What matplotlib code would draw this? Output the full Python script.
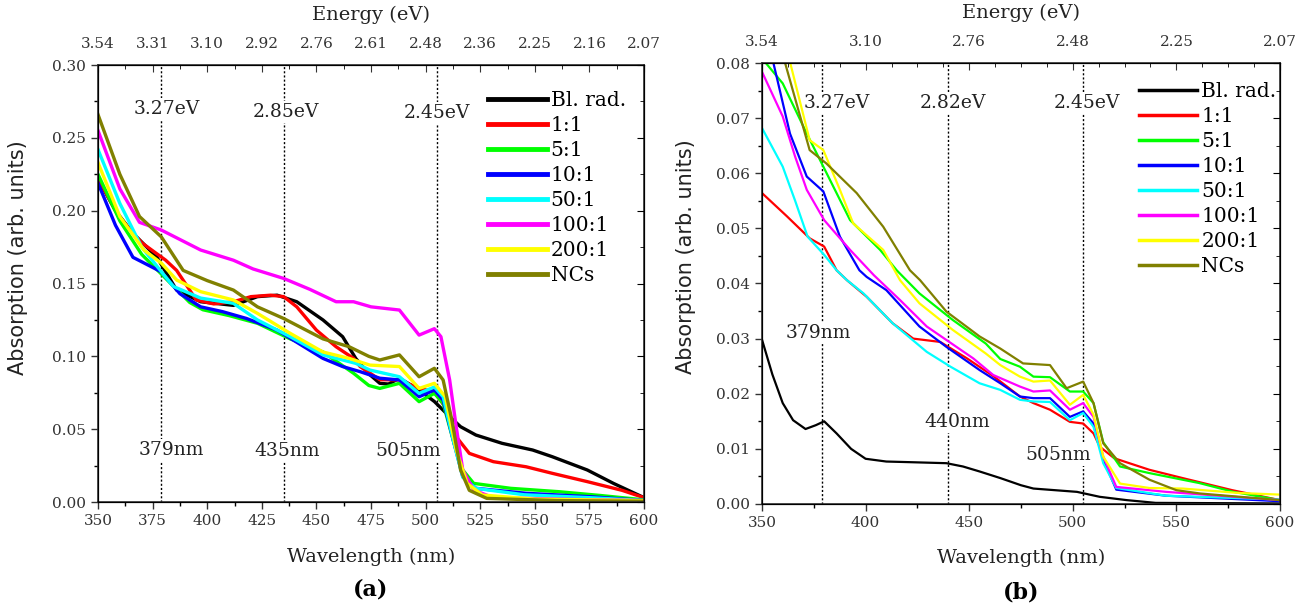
import matplotlib
matplotlib.use("Agg")
import matplotlib.pyplot as plt
from matplotlib.ticker import MultipleLocator

plt.rcParams['font.family'] = ['DejaVu Serif']

# ---- panel (a) data: wavelength (nm) / absorption ----
a_wl_black = [350, 358, 366, 377, 386, 397, 412, 423, 432, 441, 453, 462, 468, 474, 479, 483, 488, 497, 504, 511, 516, 523, 535, 549, 558, 574, 586, 600]
a_ab_black = [0.222, 0.200, 0.1845, 0.168, 0.1455, 0.1375, 0.135, 0.141, 0.142, 0.1375, 0.125, 0.1135, 0.0986, 0.088, 0.0815, 0.081, 0.085, 0.077, 0.069, 0.0586, 0.0517, 0.046, 0.0403, 0.0357, 0.0311, 0.022, 0.0128, 0.003]
a_wl_red = [350, 360, 370, 381, 386, 395, 403, 412, 420, 429, 435, 441, 450, 459, 467, 470, 479, 488, 497, 504, 510, 514, 520, 531, 546, 558, 574, 590, 600]
a_ab_red = [0.222, 0.195, 0.178, 0.166, 0.159, 0.1387, 0.136, 0.1375, 0.141, 0.142, 0.141, 0.134, 0.118, 0.1066, 0.0986, 0.093, 0.084, 0.0838, 0.078, 0.0757, 0.063, 0.0448, 0.0334, 0.0277, 0.0242, 0.0197, 0.014, 0.008, 0.003]
a_wl_green = [350, 360, 370, 380, 392, 398, 410, 423, 438, 453, 467, 474, 479, 488, 497, 504, 508, 513, 517, 522, 539, 561, 580, 600]
a_ab_green = [0.225, 0.193, 0.170, 0.155, 0.137, 0.132, 0.128, 0.1227, 0.112, 0.103, 0.0884, 0.080, 0.078, 0.0815, 0.0689, 0.0746, 0.0678, 0.0403, 0.022, 0.0128, 0.0094, 0.0071, 0.0045, 0.0015]
a_wl_blue = [350, 358, 366, 379, 387.5, 397, 407, 418, 432, 453, 462, 470, 479, 488, 497, 504, 508, 513, 517, 523, 546, 576, 600]
a_ab_blue = [0.219, 0.190, 0.168, 0.158, 0.143, 0.134, 0.1307, 0.126, 0.118, 0.0986, 0.093, 0.0895, 0.085, 0.0838, 0.0723, 0.0769, 0.070, 0.0405, 0.0174, 0.0094, 0.006, 0.0036, 0.001]
a_wl_cyan = [350, 360, 370, 378, 384.5, 397, 412, 423, 438, 453, 468, 474.5, 488, 497, 504, 508, 513, 517, 523, 545, 575, 600]
a_ab_cyan = [0.242, 0.205, 0.175, 0.160, 0.148, 0.140, 0.1364, 0.125, 0.1135, 0.101, 0.0952, 0.0906, 0.086, 0.0746, 0.079, 0.0723, 0.0403, 0.017, 0.0094, 0.005, 0.003, 0.001]
a_wl_magenta = [350, 360, 369, 379, 397, 412, 421, 435, 447, 459, 467, 475, 488, 497, 504, 507, 511, 514, 517, 522, 531, 560, 600]
a_ab_magenta = [0.255, 0.215, 0.192, 0.1867, 0.173, 0.166, 0.160, 0.1535, 0.146, 0.1375, 0.1375, 0.134, 0.1318, 0.1146, 0.119, 0.1135, 0.0838, 0.0517, 0.022, 0.0082, 0.003, 0.002, 0.001]
a_wl_yellow = [350, 360, 371, 379, 386, 397, 412, 423, 438, 453, 465, 474.5, 488, 497, 504, 509, 514, 519, 526, 550, 600]
a_ab_yellow = [0.233, 0.196, 0.173, 0.164, 0.1524, 0.1444, 0.1387, 0.1295, 0.1158, 0.103, 0.0986, 0.094, 0.093, 0.078, 0.0815, 0.0723, 0.0357, 0.0128, 0.0048, 0.002, 0.001]
a_wl_olive = [350, 360, 369, 379, 389, 400, 412, 423, 435, 453, 465, 474, 479, 488, 497, 504, 508, 512, 516, 520, 528, 560, 600]
a_ab_olive = [0.266, 0.225, 0.196, 0.182, 0.159, 0.152, 0.1455, 0.134, 0.126, 0.112, 0.1066, 0.100, 0.0975, 0.101, 0.086, 0.0918, 0.0838, 0.0563, 0.022, 0.008, 0.0025, 0.001, 0.0005]

# ---- panel (b) data ----
b_wl_black = [350, 355, 360, 365, 371, 376, 380, 386, 393, 400, 410, 420, 439, 447, 455, 465, 475, 481, 502, 513, 526, 540, 600]
b_ab_black = [0.0298, 0.0235, 0.0183, 0.0152, 0.0136, 0.0143, 0.0150, 0.0128, 0.0100, 0.0082, 0.0077, 0.0076, 0.0074, 0.0068, 0.0059, 0.0047, 0.0034, 0.0028, 0.0022, 0.0013, 0.0007, 0.0002, 0.0001]
b_wl_red = [350, 362, 373, 380, 386, 391, 400.5, 413, 423, 436, 449, 462, 474.5, 481, 489, 498.6, 505, 510, 513, 520, 537, 553, 577, 600]
b_ab_red = [0.0564, 0.0522, 0.0482, 0.0467, 0.0424, 0.0406, 0.0376, 0.0328, 0.030, 0.0294, 0.0264, 0.0231, 0.0195, 0.0183, 0.0171, 0.0149, 0.0146, 0.0128, 0.0104, 0.0083, 0.0062, 0.0047, 0.0025, 0.0007]
b_wl_green = [350, 351.4, 360, 371.6, 380.4, 392.5, 407, 415, 426, 442, 458, 465, 474.5, 481, 489, 498.6, 505, 510, 514.7, 522.8, 537, 561, 577.5, 600]
b_ab_green = [0.081, 0.0802, 0.0763, 0.0672, 0.0606, 0.0515, 0.0461, 0.0424, 0.0382, 0.0334, 0.0291, 0.0263, 0.0249, 0.0231, 0.023, 0.0204, 0.0204, 0.0183, 0.0112, 0.0068, 0.0056, 0.0038, 0.0022, 0.0007]
b_wl_blue = [350, 355.5, 363.5, 371.6, 379.6, 387.6, 397, 400.5, 410, 426, 439, 455, 465, 474.5, 481, 489, 498.6, 505, 510, 514.7, 521, 545, 600]
b_ab_blue = [0.088, 0.080, 0.0672, 0.0594, 0.0567, 0.0485, 0.0424, 0.0412, 0.0388, 0.0322, 0.0285, 0.0243, 0.0219, 0.0195, 0.0192, 0.0192, 0.0158, 0.0168, 0.0146, 0.008, 0.0026, 0.0015, 0.0005]
b_wl_cyan = [350, 360, 366, 372, 380, 386, 391, 399, 413, 429.5, 441, 455, 465, 474.5, 481, 489, 498.6, 505, 510, 514.7, 521, 545, 600]
b_ab_cyan = [0.0682, 0.0612, 0.055, 0.0485, 0.0452, 0.0424, 0.0406, 0.0382, 0.0328, 0.0276, 0.0249, 0.0219, 0.0207, 0.0189, 0.0186, 0.0185, 0.0152, 0.0165, 0.014, 0.0074, 0.0029, 0.0015, 0.0008]
b_wl_magenta = [350, 360, 366, 371.6, 380, 392.5, 404, 416.6, 429.5, 452, 461.6, 474.5, 481, 489, 498.6, 505, 510, 514.7, 521, 545, 600]
b_ab_magenta = [0.0784, 0.0703, 0.063, 0.057, 0.0515, 0.0461, 0.0415, 0.037, 0.0322, 0.0264, 0.0234, 0.0213, 0.0204, 0.0206, 0.0171, 0.0183, 0.0158, 0.0086, 0.0031, 0.0022, 0.0007]
b_wl_yellow = [350, 363.5, 373, 379.6, 387.6, 394, 408.5, 416.6, 426, 442, 458, 465, 474.5, 481, 489, 498.6, 505, 510, 514.7, 522.8, 537, 553, 580, 600]
b_ab_yellow = [0.095, 0.0802, 0.066, 0.0642, 0.057, 0.0509, 0.0461, 0.0406, 0.0364, 0.0316, 0.0273, 0.0252, 0.0231, 0.0222, 0.0224, 0.018, 0.0198, 0.0162, 0.0086, 0.0037, 0.0029, 0.0028, 0.0020, 0.0017]
b_wl_olive = [350, 361, 373, 381, 395.7, 408.5, 421.4, 426.3, 439, 455, 465, 476, 489, 497, 505, 510, 514.7, 522.8, 537, 550, 561.5, 600]
b_ab_olive = [0.097, 0.0802, 0.0642, 0.0618, 0.0564, 0.0503, 0.0424, 0.0406, 0.0349, 0.0304, 0.0282, 0.0255, 0.0252, 0.021, 0.0222, 0.0183, 0.011, 0.0074, 0.0044, 0.0025, 0.0019, 0.0007]

labels = ['Bl. rad.', '1:1', '5:1', '10:1', '50:1', '100:1', '200:1', 'NCs']
colors = ['#000000', '#ff0000', '#00ff00', '#0000ff', '#00ffff', '#ff00ff', '#ffff00', '#808000']

a_series = [(a_wl_black, a_ab_black), (a_wl_red, a_ab_red), (a_wl_green, a_ab_green), (a_wl_blue, a_ab_blue),
            (a_wl_cyan, a_ab_cyan), (a_wl_magenta, a_ab_magenta), (a_wl_yellow, a_ab_yellow), (a_wl_olive, a_ab_olive)]
b_series = [(b_wl_black, b_ab_black), (b_wl_red, b_ab_red), (b_wl_green, b_ab_green), (b_wl_blue, b_ab_blue),
            (b_wl_cyan, b_ab_cyan), (b_wl_magenta, b_ab_magenta), (b_wl_yellow, b_ab_yellow), (b_wl_olive, b_ab_olive)]

# marker lines: (wavelength, eV text, nm text)
a_marks = [(379, '3.27eV', '379nm'), (435, '2.85eV', '435nm'), (505, '2.45eV', '505nm')]
b_marks = [(379, '3.27eV', '379nm'), (440, '2.82eV', '440nm'), (505, '2.45eV', '505nm')]
a_ev_pos = [(381.5, 0.270), (436, 0.268), (505, 0.267)]
a_nm_pos = [(383.5, 0.0357), (436.5, 0.0350), (492, 0.0350)]
b_ev_pos = [(386, 0.0727), (442, 0.0727), (507, 0.0727)]
b_nm_pos = [(377, 0.0310), (444, 0.0149), (493, 0.0089)]

a_top_ticks = [350, 375, 400, 425, 450, 475, 500, 525, 550, 575, 600]
a_top_labels = ['3.54', '3.31', '3.10', '2.92', '2.76', '2.61', '2.48', '2.36', '2.25', '2.16', '2.07']
b_top_ticks = [350, 400, 450, 500, 550, 600]
b_top_labels = ['3.54', '3.10', '2.76', '2.48', '2.25', '2.07']

fig = plt.figure(figsize=(13.12, 6.10), dpi=100)
ax_a = fig.add_axes([0.0747, 0.177, 0.4162, 0.7164])
ax_b = fig.add_axes([0.5808, 0.1738, 0.3948, 0.7229])


def setup(ax, series, lw, marks, ev_pos, nm_pos, ymax, ymaj, xmaj, top_ticks, top_labels, leg_anchor, tag):
    for (wl, ab), c, lab in zip(series, colors, labels):
        ax.plot(wl, ab, color=c, lw=lw, label=lab, solid_joinstyle='round')
    for (w, ev, nm), p1, p2 in zip(marks, ev_pos, nm_pos):
        ax.axvline(w, color='k', lw=1, ls=(0, (1.5, 1.5)), zorder=0)
        ax.text(p1[0], p1[1], ev, ha='center', va='center', fontsize=13.5, color='#222222',
                bbox=dict(fc='white', ec='none', pad=1.5), zorder=1)
        ax.text(p2[0], p2[1], nm, ha='center', va='center', fontsize=13.5, color='#222222',
                bbox=dict(fc='white', ec='none', pad=1.5), zorder=1)
    ax.set_xlim(350, 600)
    ax.set_ylim(0, ymax)
    ax.xaxis.set_major_locator(MultipleLocator(xmaj))
    ax.xaxis.set_minor_locator(MultipleLocator(xmaj / 2))
    ax.yaxis.set_major_locator(MultipleLocator(ymaj))
    ax.yaxis.set_minor_locator(MultipleLocator(ymaj / 2))
    ax.yaxis.set_major_formatter(plt.FormatStrFormatter('%.2f'))
    ax.tick_params(which='major', direction='out', length=5, width=1, labelsize=11, colors='#333333')
    ax.tick_params(which='minor', direction='out', length=3, width=1)
    ax.set_xlabel('Wavelength (nm)', fontsize=14, color='#222222', labelpad=14)
    ax.set_ylabel('Absorption (arb. units)', fontsize=15, family='DejaVu Sans', color='#222222')
    ax.yaxis.set_label_coords(-0.128, 0.56)
    for s in ax.spines.values():
        s.set_linewidth(1.2)
        s.set_color('#333333')

    # right side ticks pointing in
    r = ax.twinx()
    r.set_ylim(0, ymax)
    r.yaxis.set_major_locator(MultipleLocator(ymaj))
    r.yaxis.set_minor_locator(MultipleLocator(ymaj / 2))
    r.tick_params(which='major', direction='in', length=5, labelright=False)
    r.tick_params(which='minor', direction='in', length=3)

    # top energy axis
    t = ax.twiny()
    t.set_xlim(350, 600)
    t.set_xticks(top_ticks)
    t.set_xticklabels(top_labels)
    t.xaxis.set_minor_locator(MultipleLocator(12.5))
    t.tick_params(which='major', direction='in', length=5, labelsize=11, colors='#333333', pad=10)
    t.tick_params(which='minor', direction='in', length=3)
    t.set_xlabel('Energy (eV)', fontsize=14, color='#222222', labelpad=12)

    leg = ax.legend(loc='upper left', bbox_to_anchor=leg_anchor, frameon=False, fontsize=14.5,
                    handlelength=2.9, handletextpad=0.2, labelspacing=0.3, borderaxespad=0)
    for h in leg.get_lines():
        h.set_linewidth(3.5 if lw > 2 else 2.5)
    ax.text(0.5, -0.175, tag, transform=ax.transAxes, ha='center', va='top', fontsize=16, fontweight='bold')


setup(ax_a, a_series, 2.4, a_marks, a_ev_pos, a_nm_pos, 0.30, 0.05, 25, a_top_ticks, a_top_labels, (0.70, 0.96), '(a)')
setup(ax_b, b_series, 1.6, b_marks, b_ev_pos, b_nm_pos, 0.08, 0.01, 50, b_top_ticks, b_top_labels, (0.712, 0.975), '(b)')

fig.savefig('out.png', dpi=100)
